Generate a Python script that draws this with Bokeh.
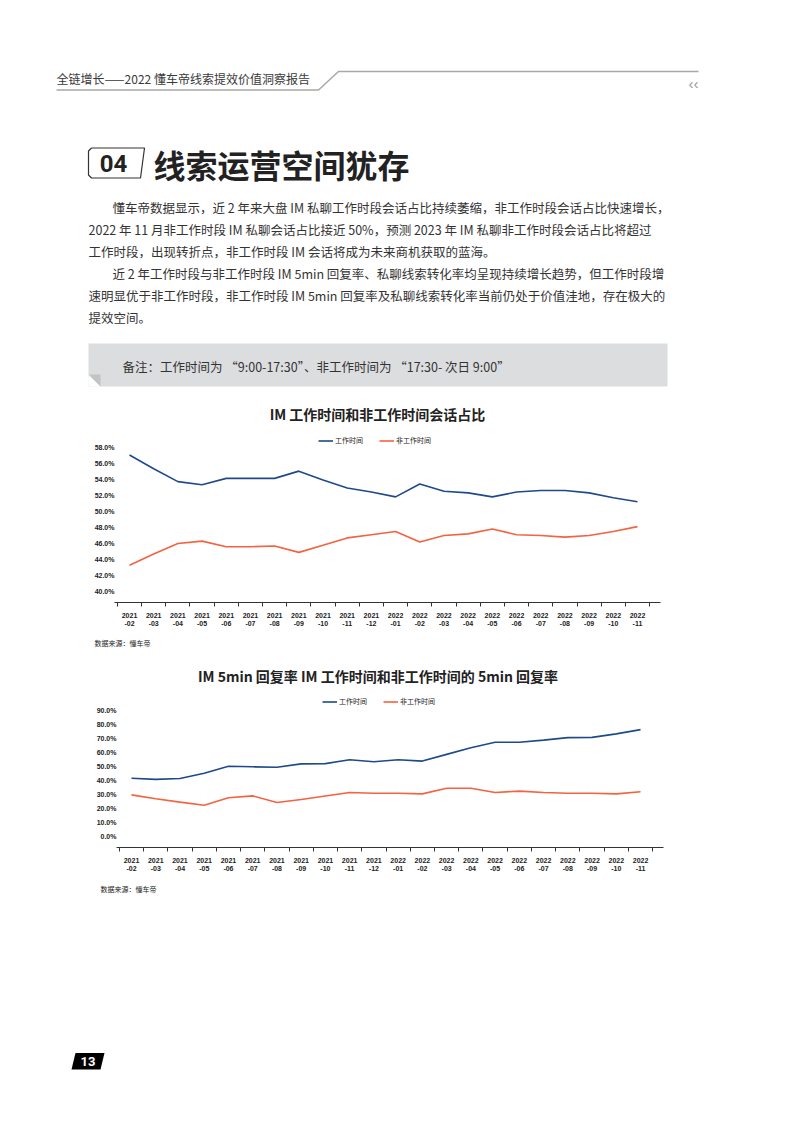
from bokeh.plotting import figure
from bokeh.layouts import column
from bokeh.models import Range1d, FixedTicker, PrintfTickFormatter
from bokeh.core.properties import value
from bokeh.embed import file_html
from bokeh.resources import INLINE

# ---------------- data ----------------
months = ["2021-02", "2021-03", "2021-04", "2021-05", "2021-06", "2021-07", "2021-08",
          "2021-09", "2021-10", "2021-11", "2021-12", "2022-01", "2022-02", "2022-03",
          "2022-04", "2022-05", "2022-06", "2022-07", "2022-08", "2022-09", "2022-10", "2022-11"]
series_names = ["工作时间", "非工作时间"]

work_share = [57.0, 55.3, 53.7, 53.3, 54.1, 54.1, 54.1, 55.0, 53.9, 52.9, 52.4, 51.8,
              53.4, 52.5, 52.3, 51.8, 52.4, 52.6, 52.6, 52.3, 51.7, 51.2]
nonwork_share = [43.3, 44.7, 46.0, 46.3, 45.6, 45.6, 45.7, 44.9, 45.8, 46.7, 47.1, 47.5,
                 46.2, 47.0, 47.2, 47.8, 47.1, 47.0, 46.8, 47.0, 47.5, 48.1]
share_ticks = [40, 42, 44, 46, 48, 50, 52, 54, 56, 58]

work_reply = [41.7, 40.9, 41.5, 45.3, 50.3, 49.9, 49.6, 52.0, 52.2, 55.0, 53.5, 55.0,
              54.0, 58.8, 63.5, 67.5, 67.5, 69.0, 70.8, 71.0, 73.5, 76.5]
nonwork_reply = [29.8, 27.0, 24.6, 22.4, 27.7, 29.1, 24.3, 26.5, 29.0, 31.5, 31.0, 31.0,
                 30.5, 34.5, 34.5, 31.5, 32.5, 31.5, 31.0, 31.0, 30.5, 32.0]
reply_ticks = [0, 10, 20, 30, 40, 50, 60, 70, 80, 90]

header_text = "全链增长——2022 懂车帝线索提效价值洞察报告"
section_no = "04"
section_title = "线索运营空间犹存"
para_lines = [
    "懂车帝数据显示，近 2 年来大盘 IM 私聊工作时段会话占比持续萎缩，非工作时段会话占比快速增长，",
    "2022 年 11 月非工作时段 IM 私聊会话占比接近 50%，预测 2023 年 IM 私聊非工作时段会话占比将超过",
    "工作时段，出现转折点，非工作时段 IM 会话将成为未来商机获取的蓝海。",
    "近 2 年工作时段与非工作时段 IM 5min 回复率、私聊线索转化率均呈现持续增长趋势，但工作时段增",
    "速明显优于非工作时段，非工作时段 IM 5min 回复率及私聊线索转化率当前仍处于价值洼地，存在极大的",
    "提效空间。",
]
note_text = "备注：工作时间为 “9:00-17:30”、非工作时间为 “17:30- 次日 9:00”"
chart1_title = "IM 工作时间和非工作时间会话占比"
chart2_title = "IM 5min 回复率 IM 工作时间和非工作时间的 5min 回复率"
source_text = "数据来源：懂车帝"
page_no = "13"

# ---------------- styles ----------------
CJK = "Noto Sans CJK SC"
LAT = "Liberation Sans"
BLUE = "#1F4A8A"
RED = "#F4623F"
TXT = "#333333"
W = 778
PAGE_R = 778


def page_fig(top, bottom):
    p = figure(width=W, height=bottom - top, x_range=Range1d(0, PAGE_R), y_range=Range1d(bottom, top),
               output_backend="svg", toolbar_location=None, x_axis_location=None,
               y_axis_location=None, min_border=0, title=None, frame_align=False)
    p.grid.visible = False
    p.outline_line_color = None
    return p


def txt(p, x, y, s, size, color=TXT, font=CJK, style="normal", align="left"):
    p.text(x=[x], y=[y], text=[s], text_font=value(font), text_font_size=value(size),
           text_font_style=style, text_color=color, text_align=align, text_baseline="middle")


def chart(top, frame_bottom, fig_bottom, fl, fr, x0, dx, yv_top, ypx_top, yv_bot, ypx_bot,
          ticks, s1, s2, leg_x, leg_y):
    idx = list(range(len(months)))
    ppu = (ypx_bot - ypx_top) / (yv_top - yv_bot)
    xr = Range1d((fl - x0) / dx, (fr - x0) / dx)
    yr = Range1d(yv_bot - (frame_bottom - ypx_bot) / ppu, yv_top + (ypx_top - top) / ppu)
    p = figure(width=W, height=fig_bottom - top, x_range=xr, y_range=yr,
               output_backend="svg", toolbar_location=None, title=None, min_border=0,
               min_border_left=fl, min_border_right=PAGE_R - fr,
               min_border_bottom=fig_bottom - frame_bottom, min_border_top=0,
               frame_align=False)
    p.grid.visible = False
    p.outline_line_color = None
    p.line(idx, s1, color=BLUE, line_width=1.6, legend_label=series_names[0])
    p.line(idx, s2, color=RED, line_width=1.6, legend_label=series_names[1])

    xa = p.xaxis[0]
    xa.ticker = FixedTicker(ticks=idx, minor_ticks=[i - 0.5 for i in range(len(months) + 1)])
    xa.major_label_overrides = {i: m.replace("-", "\n-") for i, m in enumerate(months)}
    xa.major_tick_out = 0
    xa.major_tick_in = 0
    xa.minor_tick_out = 4
    xa.minor_tick_in = 0
    xa.minor_tick_line_color = "#333333"
    xa.axis_line_color = "#333333"
    xa.axis_line_width = 1.2
    xa.major_label_standoff = 5
    xa.major_label_text_font = LAT
    xa.major_label_text_font_size = "7px"
    xa.major_label_text_font_style = "bold"
    xa.major_label_text_color = "#222222"

    ya = p.yaxis[0]
    ya.ticker = FixedTicker(ticks=ticks)
    ya.formatter = PrintfTickFormatter(format="%.1f%%")
    ya.axis_line_color = None
    ya.major_tick_line_color = None
    ya.minor_tick_line_color = None
    ya.major_tick_out = 0
    ya.major_tick_in = 0
    ya.minor_tick_out = 0
    ya.major_label_standoff = 0
    ya.major_label_text_font = LAT
    ya.major_label_text_font_size = "7px"
    ya.major_label_text_font_style = "bold"
    ya.major_label_text_color = "#222222"

    lg = p.legend[0]
    lg.location = (leg_x, leg_y)
    lg.orientation = "horizontal"
    lg.padding = 0
    lg.margin = 0
    lg.spacing = 16
    lg.glyph_width = 15
    lg.glyph_height = 9
    lg.label_height = 9
    lg.label_standoff = 2
    lg.label_text_font = CJK
    lg.label_text_font_size = "7px"
    lg.label_text_color = "#222222"
    lg.border_line_color = None
    lg.background_fill_alpha = 0
    return p


# ---------------- figure A: header / text ----------------
A = page_fig(0, 432)
txt(A, 56, 78, header_text, "12px", color="#3a3a3a")
A.line([56, 318, 338, 698], [89.5, 89.5, 71, 71], line_color="#a8a8a8", line_width=1.5)
txt(A, 688, 83, "‹‹", "15px", color="#9a9a9a", font=LAT)

A.line([91, 144, 140, 91, 88, 88, 91], [147.5, 147.5, 177.5, 177.5, 174.5, 150.5, 147.5],
       line_color="#333333", line_width=1.2)
txt(A, 113, 163, section_no, "24px", color="#222222", font="Roboto", style="bold", align="center")
txt(A, 153, 163, section_title, "32px", color="#222222", style="bold")

para_x = [112, 88, 88, 112, 88, 88]
for i, line in enumerate(para_lines):
    txt(A, para_x[i], 207 + 22 * i, line, "12.5px")

A.quad(left=[88], right=[667], top=[343], bottom=[386], fill_color="#dcdddf", line_color=None)
A.patch([88, 88, 100], [374, 386, 386], fill_color="#ffffff", line_color=None)
A.patch([88, 100, 100], [374, 374, 386], fill_color="#c2c3c5", line_color=None)
txt(A, 122, 365.5, note_text, "12.5px")

txt(A, 377, 413, chart1_title, "14px", color="#222222", style="bold", align="center")

# ---------------- figure B: chart 1 ----------------
B = chart(432, 602, 636, 114, 660, 129, 24.19, 58, 446.5, 40, 591.3,
          share_ticks, work_share, nonwork_share, 204, 157)

# ---------------- figure C ----------------
C = page_fig(636, 692)
txt(C, 94, 642, source_text, "7px", color="#222222")
txt(C, 377.5, 675, chart2_title, "14px", color="#222222", style="bold", align="center")

# ---------------- figure D: chart 2 ----------------
D = chart(692, 847, 883, 116, 663, 131, 24.24, 90, 710.3, 0, 836,
          reply_ticks, work_reply, nonwork_reply, 206, 141)

# ---------------- figure E: footer ----------------
E = page_fig(883, 1107)
txt(E, 100, 888, source_text, "7px", color="#222222")
E.patch([75, 104, 100, 71], [1052.5, 1052.5, 1069, 1069], fill_color="#000000", line_color=None)
txt(E, 87.5, 1061, page_no, "13px", color="#ffffff", font="Roboto", style="bold", align="center")

page = column(A, B, C, D, E, spacing=0)
open("out.html", "w").write(file_html(page, INLINE))
